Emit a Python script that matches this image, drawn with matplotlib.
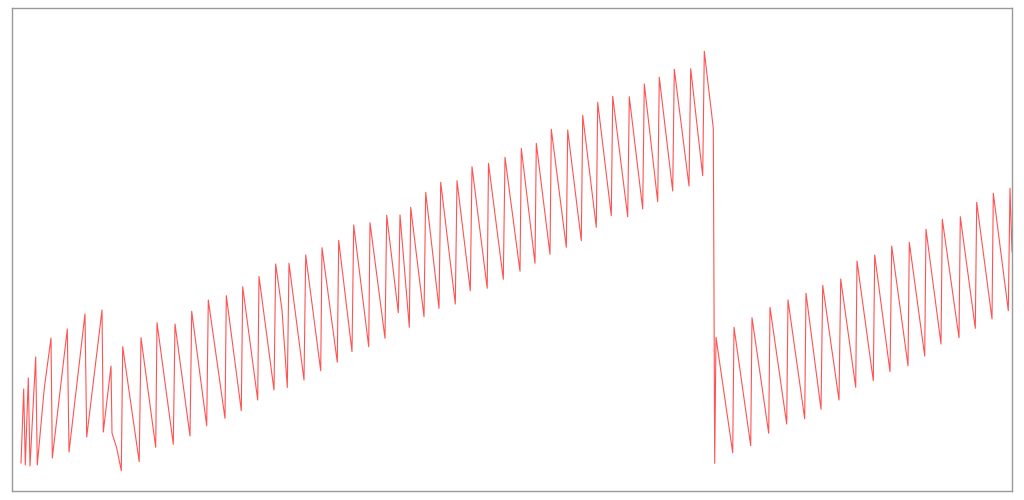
import matplotlib
matplotlib.use('Agg')
import matplotlib.pyplot as plt

# sample positions and values (pixel-like units)
x = [21, 23.7, 25.3, 28.3, 30, 35.7, 37.3, 44.3, 51, 52.3, 67.3, 69, 85, 86.7,
     102, 103.3, 111, 112, 116.7, 121.3, 122.7, 139.2, 141, 155.7, 157, 173.3,
     175, 190, 191.7, 206.7, 208.3, 225, 226.3, 241.3, 242.7, 257.7, 259, 274,
     275.7, 282, 287.3, 289, 304, 305.7, 320.7, 322, 337.3, 338.7, 352, 353.7,
     368.7, 370, 385, 386.7, 398.3, 400, 409.3, 410.7, 424, 425.7, 439, 440.7,
     455.3, 457, 470.3, 472, 487.2, 488.5, 503.3, 505, 520, 521.3, 535, 536.3,
     550, 551.3, 566.3, 567.7, 581.3, 582.7, 596.3, 597.7, 611.3, 612.7, 627.7,
     629.3, 642.7, 644.3, 657.7, 659.3, 672.7, 674.3, 689, 690.7, 702.7, 704.3,
     713.3, 714.7, 716, 732.7, 734, 750.7, 752, 768.7, 770, 786.7, 788, 804.7,
     806, 821, 822.7, 839, 840.7, 855.7, 857, 873.3, 874.7, 890, 891.7, 908,
     909.3, 924.7, 926, 941, 942.3, 959, 960.3, 975.3, 976.7, 992, 993.3,
     1008.3, 1010, 1012]
ypix = [463, 389, 465, 378, 466, 357, 465, 388, 338, 458, 329, 452, 314, 437,
        310, 432, 366, 433, 448, 470.7, 346.7, 461.7, 337.7, 447.3, 322.7,
        444.3, 324, 436, 311.3, 425.7, 300, 418.3, 295.7, 410.7, 286.7, 400,
        276.5, 390, 264, 310, 387.5, 263.3, 380, 255, 370.7, 247.7, 362.3,
        240.3, 351.7, 225, 346.7, 222.7, 338.3, 215.3, 312.7, 215, 327.3, 207.3,
        316.7, 192.3, 308.3, 182.3, 304, 180.7, 290.7, 166.7, 288.3, 163.3,
        279.3, 157.3, 271.3, 148.3, 263.3, 143.3, 254.3, 129.3, 247.3, 130,
        240.7, 115.3, 227.3, 102.3, 215.7, 96.3, 216.7, 96.7, 209, 84, 201.7,
        77.3, 191, 69.3, 186, 68.7, 175.7, 51.3, 128.3, 463.3, 337.3, 452.7,
        327.3, 445.7, 317.7, 433.3, 307.3, 424, 300, 418.7, 293.3, 409.3, 285.3,
        400, 279, 387.3, 261, 380.7, 255, 371.7, 246, 365.7, 242.3, 356, 229.3,
        344, 219.3, 337.7, 216.7, 328.3, 202.3, 319, 193.3, 310.7, 188.3, 251.7]
y = [500 - v for v in ypix]

fig = plt.figure(figsize=(10.24, 5.0), dpi=100)
ax = fig.add_axes([12 / 1024, 9 / 500, 1000 / 1024, 483 / 500])
ax.plot(x, y, color='#ff4040', lw=0.8, alpha=0.9)
ax.set_xlim(12, 1012)
ax.set_ylim(9, 492)
ax.set_xticks([])
ax.set_yticks([])
for s in ax.spines.values():
    s.set_color('#999999')
    s.set_linewidth(1)

fig.savefig('out.png', dpi=100)
